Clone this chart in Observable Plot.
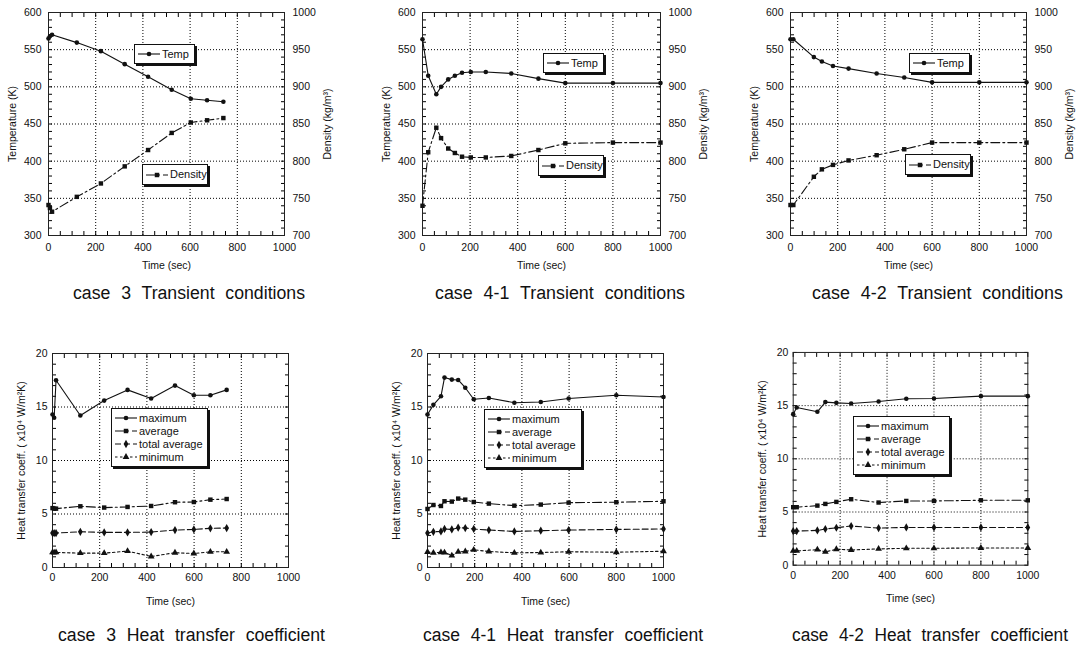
<!DOCTYPE html>
<html>
<head>
<meta charset="utf-8">
<script src="https://cdn.jsdelivr.net/npm/d3@7"></script>
<script src="https://cdn.jsdelivr.net/npm/@observablehq/plot@0.6"></script>
<style>
  html, body { margin: 0; padding: 0; background: #fff; }
  #root { position: relative; width: 1083px; height: 648px; overflow: hidden;
          font-family: "Liberation Sans", Arial, sans-serif; color: #111; }
  .panel { position: absolute; }
  .panel svg { overflow: visible; display: block; }
  .caption { position: absolute; white-space: nowrap; font-size: 18px; line-height: 22px;
             word-spacing: 6px; color: #111; transform-origin: 0 50%; }
  .legend { position: absolute; box-sizing: border-box; background: #fff; border: 1px solid #111;
            box-shadow: 2px 2px 0 #111; font-size: 11px; line-height: 13px; color: #111;
            display: flex; flex-direction: column; justify-content: center; padding: 0 3px; }
  .legend .row { display: flex; align-items: center; white-space: nowrap; }
  .legend svg { margin-right: 2px; flex: none; }
</style>
</head>
<body>
<div id="root"></div>
<script>
// ---------------- data ----------------
const timeTicks = [0, 200, 400, 600, 800, 1000];
const tempTicks = [300, 350, 400, 450, 500, 550, 600];
const densityTicks = [700, 750, 800, 850, 900, 950, 1000];
const htcTicks = [0, 5, 10, 15, 20];

// case 3 transient
const case3Time = [0, 6, 15, 120, 222, 323, 422, 522, 603, 672, 741];
const case3Temp = [565, 568, 570, 559.5, 548, 530.5, 513.5, 496, 484, 482, 480];
const case3Density = [741, 737, 732, 752, 770, 793, 815, 838, 852, 855, 858];

// case 4-1 transient
const case41Time = [0, 24, 58, 78, 108, 136, 166, 203, 266, 373, 487, 600, 800, 1000];
const case41Temp = [564, 515, 490, 500, 510, 515, 519, 520, 520, 518, 511, 505, 505, 505];
const case41Density = [740, 812, 845, 831, 817, 811, 806, 805, 805, 807, 815, 824, 825, 825];

// case 4-2 transient
const case42Time = [0, 12, 99, 133, 180, 246, 365, 482, 600, 800, 1000];
const case42Temp = [564, 564, 540, 534, 528, 524.5, 518, 512.6, 506, 506, 506];
const case42Density = [741, 741, 779, 789, 795, 801, 808, 816, 825, 825, 825];

// case 3 heat transfer coefficient (x10^4 W/m2K)
const htc3Time = [0, 7, 15, 118, 219, 318, 418, 519, 599, 669, 738];
const htc3Max = [14.3, 14.0, 17.5, 14.2, 15.6, 16.6, 15.8, 17.0, 16.1, 16.1, 16.6];
const htc3Avg = [5.55, 5.5, 5.5, 5.72, 5.6, 5.66, 5.75, 6.1, 6.12, 6.34, 6.4];
const htc3Tot = [3.22, 3.22, 3.22, 3.34, 3.28, 3.28, 3.31, 3.5, 3.56, 3.66, 3.69];
const htc3Min = [1.41, 1.4, 1.41, 1.34, 1.34, 1.53, 1.03, 1.38, 1.31, 1.47, 1.47];

// case 4-1 heat transfer coefficient
const htc41Time = [0, 25, 57, 72, 103, 130, 160, 196, 260, 368, 480, 598, 800, 1000];
const htc41Max = [14.3, 15.2, 16.0, 17.75, 17.56, 17.53, 16.8, 15.72, 15.84, 15.4, 15.47, 15.8, 16.1, 15.94];
const htc41Avg = [5.47, 5.84, 5.75, 6.19, 6.16, 6.44, 6.34, 6.12, 5.97, 5.78, 5.88, 6.06, 6.1, 6.19];
const htc41Tot = [3.22, 3.34, 3.37, 3.6, 3.56, 3.72, 3.69, 3.6, 3.5, 3.37, 3.44, 3.5, 3.56, 3.6];
const htc41Min = [1.45, 1.37, 1.42, 1.4, 1.12, 1.46, 1.5, 1.65, 1.5, 1.37, 1.4, 1.47, 1.43, 1.52];

// case 4-2 heat transfer coefficient
const htc42Time = [0, 15, 103, 137, 184, 247, 364, 482, 600, 800, 1000];
const htc42Max = [14.2, 14.83, 14.42, 15.33, 15.26, 15.2, 15.39, 15.64, 15.67, 15.89, 15.89];
const htc42Avg = [5.45, 5.45, 5.6, 5.76, 5.95, 6.2, 5.89, 6.04, 6.04, 6.1, 6.1];
const htc42Tot = [3.21, 3.21, 3.27, 3.4, 3.52, 3.68, 3.49, 3.55, 3.55, 3.55, 3.55];
const htc42Min = [1.34, 1.34, 1.46, 1.25, 1.5, 1.43, 1.53, 1.59, 1.59, 1.62, 1.62];

const htcNames = ["maximum", "average", "total average", "minimum"];
const transientNames = ["Temp", "Density"];
const captions = [
  "case 3 Transient conditions", "case 4-1 Transient conditions", "case 4-2 Transient conditions",
  "case 3 Heat transfer coefficient", "case 4-1 Heat transfer coefficient", "case 4-2 Heat transfer coefficient"
];

// ---------------- styles / layout ----------------
const FONT = "'Liberation Sans', Arial, sans-serif";
const INK = "#111";
const styleOf = {
  "Temp": {dash: null, symbol: "circle"},
  "Density": {dash: "9,3,2,3", symbol: "square"},
  "maximum": {dash: null, symbol: "circle"},
  "average": {dash: "9,3,2,3", symbol: "square"},
  "total average": {dash: "6,3", symbol: "diamond"},
  "minimum": {dash: "2.5,2.5", symbol: "triangle"}
};
const M = {l: 52, r: 56, t: 10, b: 46};
const frames = [
  {L: 48, R: 284, T: 12, B: 235},
  {L: 422, R: 660, T: 12, B: 235},
  {L: 790, R: 1026, T: 12, B: 235},
  {L: 52, R: 288, T: 353, B: 567},
  {L: 427, R: 663, T: 353, B: 567},
  {L: 793, R: 1029, T: 352, B: 566}
];
const captionBoxes = [
  {x0: 73, x1: 305, cy: 293}, {x0: 435, x1: 685, cy: 293}, {x0: 812, x1: 1063, cy: 293},
  {x0: 58, x1: 325, cy: 635}, {x0: 423, x1: 703, cy: 635}, {x0: 792, x1: 1068, cy: 635}
];
const transientLegendBoxes = [
  [{x: 134, y: 44, w: 61, h: 20}, {x: 142, y: 164, w: 66, h: 21}],
  [{x: 543, y: 53, w: 61, h: 20}, {x: 538, y: 155, w: 66, h: 21}],
  [{x: 909, y: 53, w: 61, h: 20}, {x: 905, y: 154, w: 66, h: 21}]
];
const htcLegendBoxes = [
  {x: 111, y: 408, w: 97, h: 59}, {x: 484, y: 409, w: 98, h: 59}, {x: 853, y: 416, w: 97, h: 59}
];

const root = document.getElementById("root");
const gridStyle = {stroke: "#000", strokeOpacity: 1, strokeWidth: 1, strokeDasharray: "1,2"};
const plainNumber = d => String(d);

function gridMarks(xs, ys) {
  return [
    Plot.ruleX(xs, {x: d => d, ...gridStyle}),
    Plot.ruleY(ys, {y: d => d, ...gridStyle})
  ];
}

function minorTickMarks(xs, ys) {
  const common = {tickSize: 4, tickFormat: () => "", label: null, stroke: "#000", strokeWidth: 1};
  return [
    Plot.axisX(xs, {...common, anchor: "bottom", dy: -4}),
    Plot.axisX(xs, {...common, anchor: "top", dy: 4}),
    Plot.axisY(ys, {...common, anchor: "left", dx: 4}),
    Plot.axisY(ys, {...common, anchor: "right", dx: -4})
  ];
}

function seriesMarks(rows, name) {
  const s = styleOf[name];
  return [
    Plot.line(rows, {x: "t", y: "v", stroke: INK, strokeWidth: 1.1, strokeDasharray: s.dash || undefined}),
    Plot.dot(rows, {x: "t", y: "v", r: s.symbol === "circle" ? 2.3 : 2.5, fill: INK, stroke: "none", symbol: s.symbol})
  ];
}

function mount(svg, f) {
  const div = document.createElement("div");
  div.className = "panel";
  div.style.left = (f.L - M.l) + "px";
  div.style.top = (f.T - M.t) + "px";
  div.appendChild(svg);
  root.appendChild(div);
}

// density -> temperature-axis position (the two axes share the frame)
const toTempAxis = d3.scaleLinear()
  .domain([densityTicks[0], densityTicks[densityTicks.length - 1]])
  .range([tempTicks[0], tempTicks[tempTicks.length - 1]]);

function transientPlot(time, temp, dens, f) {
  const T = time.map((t, i) => ({t, v: temp[i]}));
  const D = time.map((t, i) => ({t, v: toTempAxis(dens[i])}));
  return Plot.plot({
    width: f.R - f.L + M.l + M.r,
    height: f.B - f.T + M.t + M.b,
    marginLeft: M.l, marginRight: M.r, marginTop: M.t, marginBottom: M.b,
    style: {fontFamily: FONT, color: INK, background: "transparent"},
    x: {domain: [timeTicks[0], timeTicks[timeTicks.length - 1]]},
    y: {domain: [tempTicks[0], tempTicks[tempTicks.length - 1]]},
    marks: [
      ...gridMarks(timeTicks.slice(1, -1), tempTicks.slice(1, -1)),
      ...minorTickMarks(d3.range(0, 1001, 50), d3.range(300, 601, 10)),
      Plot.axisX(timeTicks, {anchor: "bottom", tickSize: 0, tickPadding: 8, fontSize: 10.5,
        tickFormat: plainNumber, label: "Time (sec)", labelAnchor: "center", labelOffset: 33, labelArrow: "none"}),
      Plot.axisY(tempTicks, {anchor: "left", tickSize: 0, tickPadding: 7, fontSize: 10.5,
        tickFormat: plainNumber, label: "Temperature (K)", labelAnchor: "center", labelOffset: 40, labelArrow: "none"}),
      Plot.axisY(tempTicks, {anchor: "right", tickSize: 0, tickPadding: 8, fontSize: 10.5,
        tickFormat: d => String(densityTicks[tempTicks.indexOf(d)]),
        label: "Density (kg/m³)", labelAnchor: "center", labelOffset: 46, labelArrow: "none"}),
      Plot.frame({stroke: "#222", strokeWidth: 1}),
      ...seriesMarks(D, "Density"),
      ...seriesMarks(T, "Temp")
    ]
  });
}

function htcPlot(time, seriesValues, f) {
  const marks = [];
  htcNames.forEach((name, k) => {
    const rows = time.map((t, i) => ({t, v: seriesValues[k][i]}));
    marks.push(...seriesMarks(rows, name));
  });
  return Plot.plot({
    width: f.R - f.L + M.l + M.r,
    height: f.B - f.T + M.t + M.b,
    marginLeft: M.l, marginRight: M.r, marginTop: M.t, marginBottom: M.b,
    style: {fontFamily: FONT, color: INK, background: "transparent"},
    x: {domain: [timeTicks[0], timeTicks[timeTicks.length - 1]]},
    y: {domain: [htcTicks[0], htcTicks[htcTicks.length - 1]]},
    marks: [
      ...gridMarks(timeTicks.slice(1, -1), htcTicks.slice(1, -1)),
      ...minorTickMarks(d3.range(0, 1001, 50), d3.range(0, 21, 1)),
      Plot.axisX(timeTicks, {anchor: "bottom", tickSize: 0, tickPadding: 6, fontSize: 10.5,
        tickFormat: plainNumber, label: "Time (sec)", labelAnchor: "center", labelOffset: 37, labelArrow: "none"}),
      Plot.axisY(htcTicks, {anchor: "left", tickSize: 0, tickPadding: 5, fontSize: 10.5,
        tickFormat: plainNumber, label: "Heat transfer coeff. ( x10⁴ W/m²K)", labelAnchor: "center",
        labelOffset: 35, labelArrow: "none"}),
      Plot.frame({stroke: "#222", strokeWidth: 1}),
      ...marks
    ]
  });
}

function symbolPath(symbol) {
  const map = {circle: d3.symbolCircle, square: d3.symbolSquare, diamond: d3.symbolDiamond, triangle: d3.symbolTriangle};
  return d3.symbol(map[symbol], symbol === "circle" ? 17 : 20)();
}

function legend(names, box) {
  const div = document.createElement("div");
  div.className = "legend";
  Object.assign(div.style, {left: box.x + "px", top: box.y + "px", width: box.w + "px", height: box.h + "px"});
  names.forEach(name => {
    const s = styleOf[name];
    const row = document.createElement("div");
    row.className = "row";
    row.innerHTML =
      `<svg width="22" height="10"><line x1="0" y1="5" x2="22" y2="5" stroke="${INK}" stroke-width="1.1"` +
      (s.dash ? ` stroke-dasharray="${s.dash}"` : "") + `/>` +
      `<path transform="translate(11,5)" d="${symbolPath(s.symbol)}" fill="${INK}"/></svg>`;
    const span = document.createElement("span");
    span.textContent = name;
    row.appendChild(span);
    div.appendChild(row);
  });
  root.appendChild(div);
}

// ---------------- render ----------------
const transientSets = [
  [case3Time, case3Temp, case3Density],
  [case41Time, case41Temp, case41Density],
  [case42Time, case42Temp, case42Density]
];
transientSets.forEach(([t, T, D], i) => {
  mount(transientPlot(t, T, D, frames[i]), frames[i]);
  legend([transientNames[0]], transientLegendBoxes[i][0]);
  legend([transientNames[1]], transientLegendBoxes[i][1]);
});

const htcSets = [
  [htc3Time, [htc3Max, htc3Avg, htc3Tot, htc3Min]],
  [htc41Time, [htc41Max, htc41Avg, htc41Tot, htc41Min]],
  [htc42Time, [htc42Max, htc42Avg, htc42Tot, htc42Min]]
];
htcSets.forEach(([t, vals], i) => {
  mount(htcPlot(t, vals, frames[i + 3]), frames[i + 3]);
  legend(htcNames, htcLegendBoxes[i]);
});

captions.forEach((text, i) => {
  const b = captionBoxes[i];
  const div = document.createElement("div");
  div.className = "caption";
  div.textContent = text;
  div.style.left = b.x0 + "px";
  div.style.top = (b.cy - 11) + "px";
  root.appendChild(div);
  const w = div.getBoundingClientRect().width;
  div.style.transform = `scaleX(${(b.x1 - b.x0) / w})`;
});
</script>
</body>
</html>
